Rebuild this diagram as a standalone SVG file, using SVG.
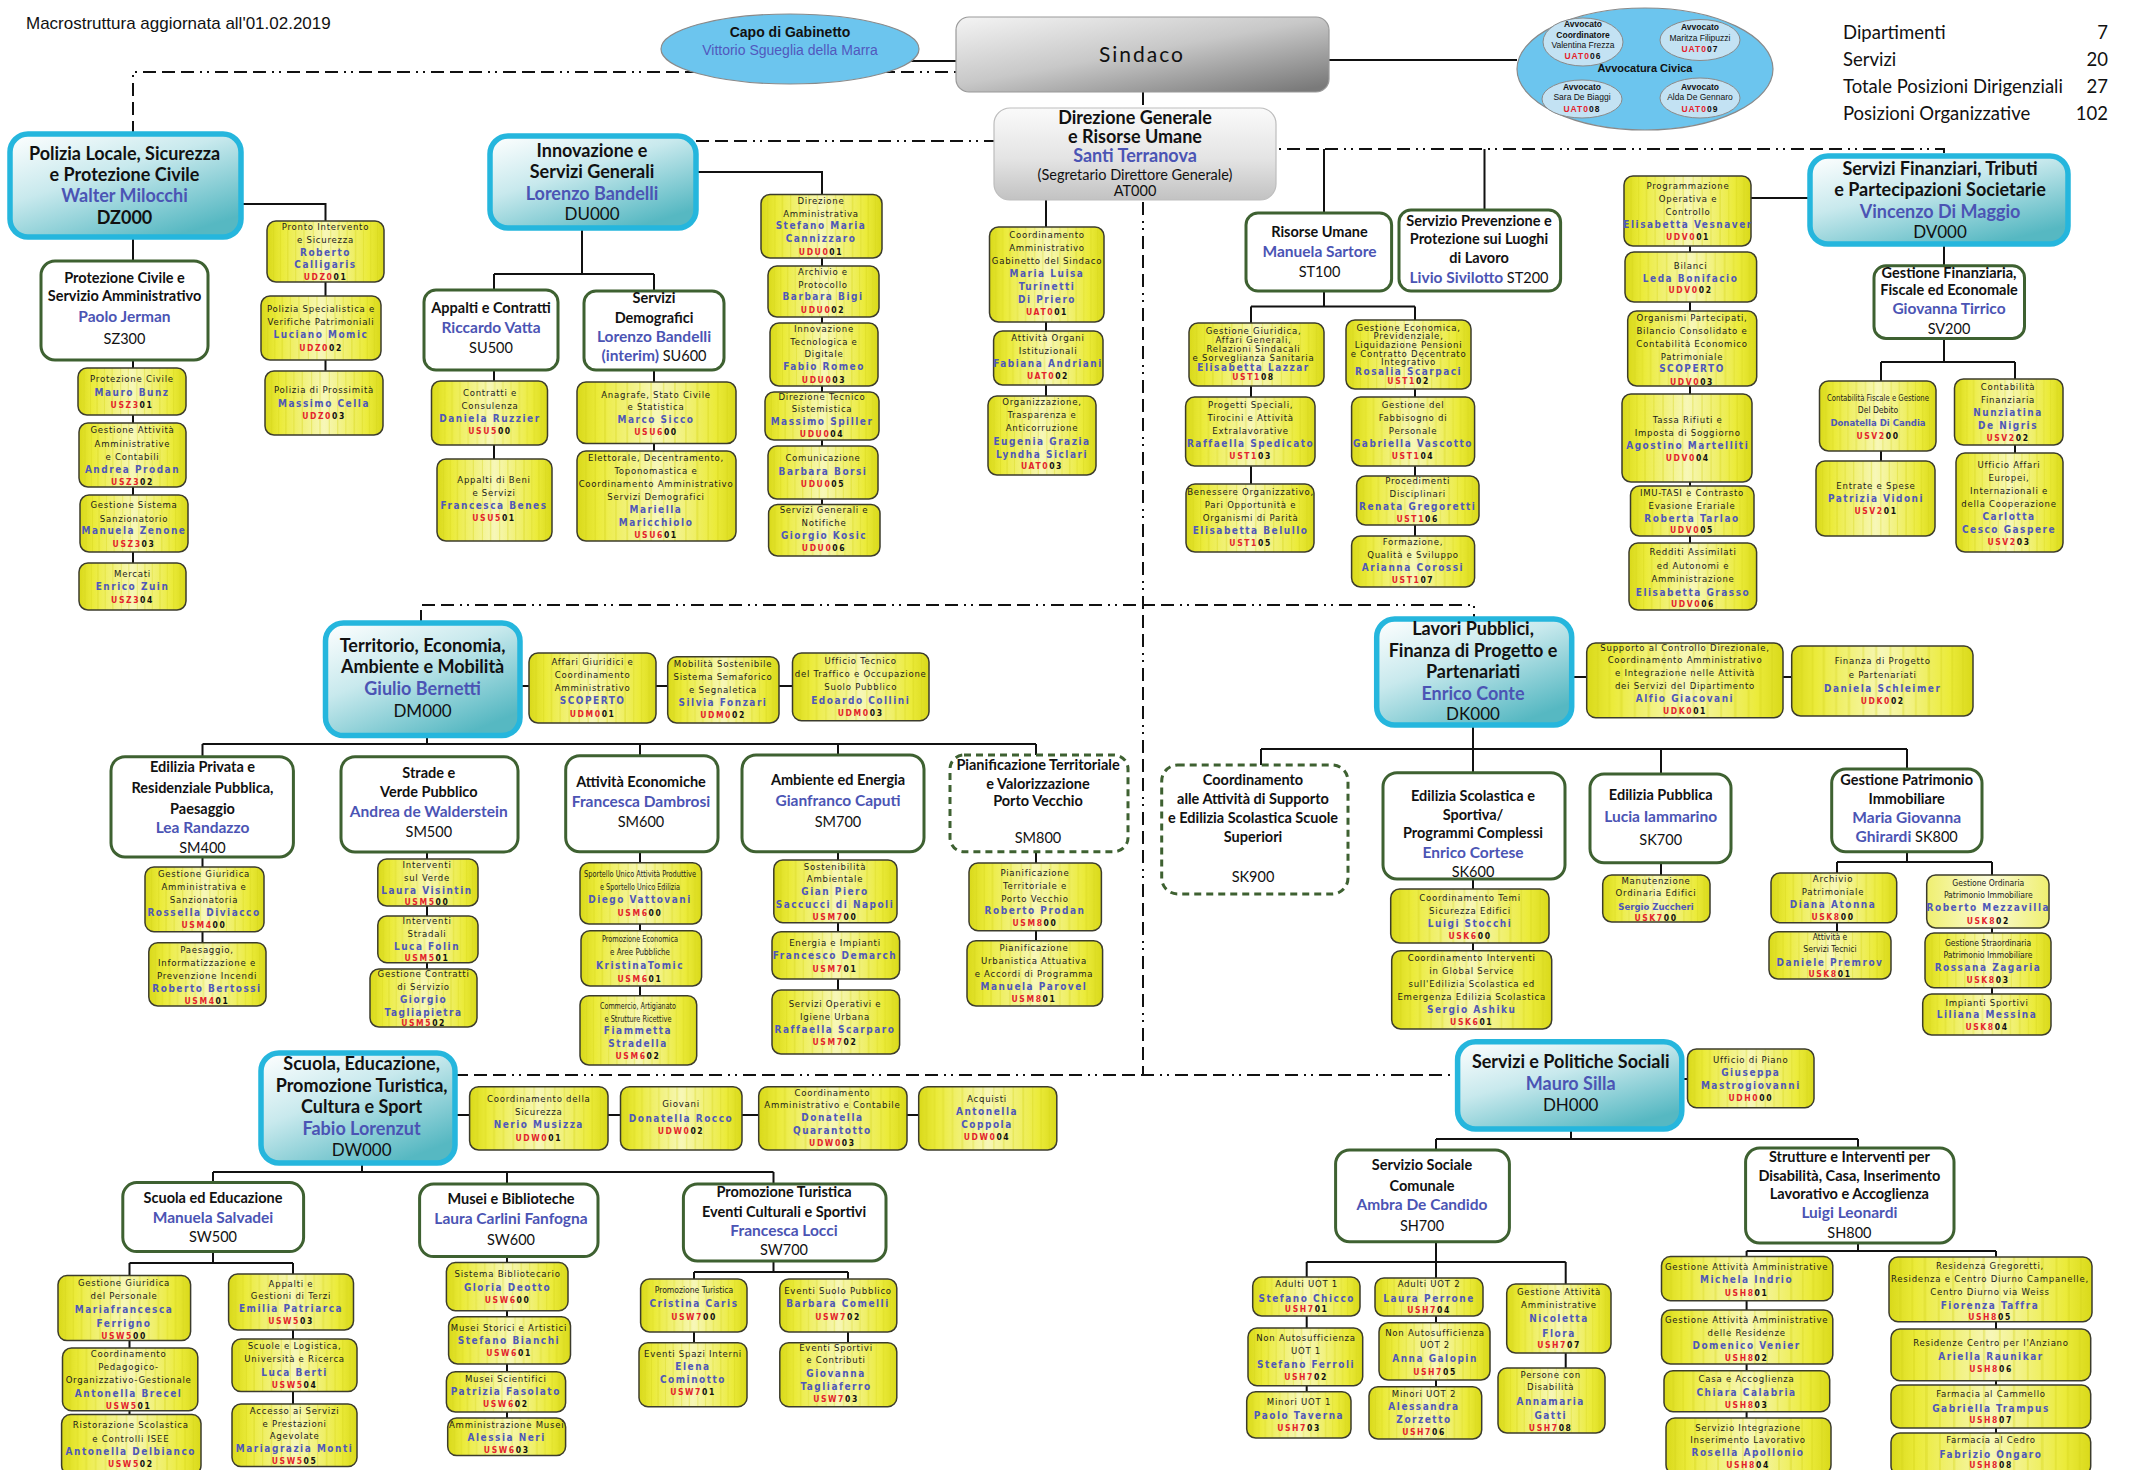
<svg xmlns="http://www.w3.org/2000/svg" width="2134" height="1470" viewBox="0 0 2134 1470">
<defs>
<linearGradient id="gy" x1="0" y1="0" x2="1" y2="0"><stop offset="0" stop-color="#d9d91a"/><stop offset="0.13" stop-color="#ebeb3a"/><stop offset="0.5" stop-color="#f7f7b8"/><stop offset="0.87" stop-color="#ebeb3a"/><stop offset="1" stop-color="#d9d91a"/></linearGradient>
<linearGradient id="gy2" x1="0" y1="0" x2="1" y2="0"><stop offset="0" stop-color="#efef70"/><stop offset="0.5" stop-color="#fbfbd8"/><stop offset="1" stop-color="#efef70"/></linearGradient>
<pattern id="py" patternUnits="objectBoundingBox" patternContentUnits="objectBoundingBox" x="0" y="0" width="1" height="1">
<rect width="1" height="1" fill="url(#gy)"/>
<g fill="#d4d418" opacity="0.35"><rect x="0.05" width="0.012" height="1"/><rect x="0.11" width="0.01" height="1"/><rect x="0.17" width="0.014" height="1"/><rect x="0.24" width="0.01" height="1"/><rect x="0.31" width="0.012" height="1"/><rect x="0.39" width="0.01" height="1"/><rect x="0.46" width="0.012" height="1"/><rect x="0.54" width="0.01" height="1"/><rect x="0.61" width="0.012" height="1"/><rect x="0.68" width="0.01" height="1"/><rect x="0.75" width="0.014" height="1"/><rect x="0.82" width="0.01" height="1"/><rect x="0.88" width="0.012" height="1"/><rect x="0.94" width="0.01" height="1"/></g>
</pattern>
<linearGradient id="gd" x1="0" y1="0" x2="0.7" y2="1"><stop offset="0" stop-color="#ffffff"/><stop offset="0.45" stop-color="#c8e9ed"/><stop offset="1" stop-color="#56b8c2"/></linearGradient>
<linearGradient id="gs" x1="0" y1="0" x2="0.9" y2="1"><stop offset="0" stop-color="#f4f4f4"/><stop offset="0.5" stop-color="#c8c8c8"/><stop offset="1" stop-color="#7a7a7a"/></linearGradient>
<linearGradient id="gg" x1="0" y1="0" x2="0" y2="1"><stop offset="0" stop-color="#fafafa"/><stop offset="0.55" stop-color="#e4e4e4"/><stop offset="1" stop-color="#c2c2c2"/></linearGradient>
<style>
.yb{fill:url(#py);stroke:#3c3c2c;stroke-width:1.5}
.yb2{fill:url(#gy2);stroke:#3c3c2c;stroke-width:1.5}
.sb{fill:#fff;stroke:#3e6131;stroke-width:3}
.sbd{fill:#fff;stroke:#3e6131;stroke-width:3;stroke-dasharray:7 5}
.db{fill:url(#gd);stroke:#25b6dd;stroke-width:5.5}
.cn{fill:none;stroke:#111;stroke-width:2}
.dl{fill:none;stroke:#111;stroke-width:2;stroke-dasharray:13 6 13 6 13 6 2 5 2 6}
.l,.lc,.n,.nc,.c{font-family:"DejaVu Sans Condensed","Liberation Sans Narrow","Liberation Sans",sans-serif;font-stretch:condensed;text-anchor:middle}
.l{font-size:9.5px;letter-spacing:.75px;fill:#1b1b1b}
.lc{font-size:8.5px;letter-spacing:0;fill:#1b1b1b}
.n{font-size:10px;font-weight:bold;letter-spacing:1.5px;fill:#4f58b8}
.nc{font-size:9.5px;font-weight:bold;letter-spacing:0;fill:#4f58b8}
.c{font-size:8.5px;font-weight:bold;letter-spacing:1.6px;fill:#111}
.r{fill:#e3232c}
.t,.tn,.tc,.dt,.dn,.dc{font-family:Lato,"Liberation Sans",sans-serif;text-anchor:middle}
.t{font-size:14.5px;font-weight:bold;fill:#111}
.tn{font-size:15.5px;font-weight:bold;fill:#4b54b4}
.tc{font-size:14.5px;fill:#111}
.dt{font-size:18px;font-weight:bold;fill:#111}
.dn{font-size:18px;font-weight:bold;fill:#4b54b4}
.dc{font-size:17px;fill:#111}
.st{font-family:Lato,"Liberation Sans",sans-serif;font-size:18.5px;fill:#111}
.av{font-family:"Liberation Sans",Arial,sans-serif;font-size:8.5px;text-anchor:middle;fill:#111}
</style>
</defs>
<rect width="2134" height="1470" fill="#ffffff"/>
<text x="26" y="29" font-family="Liberation Sans, Arial, sans-serif" font-size="17" fill="#111">Macrostruttura aggiornata all'01.02.2019</text>
<g id="stats">
<text class="st" x="1843" y="39">Dipartimenti</text><text class="st" x="2108" y="39" text-anchor="end">7</text>
<text class="st" x="1843" y="66">Servizi</text><text class="st" x="2108" y="66" text-anchor="end">20</text>
<text class="st" x="1843" y="93">Totale Posizioni Dirigenziali</text><text class="st" x="2108" y="93" text-anchor="end">27</text>
<text class="st" x="1843" y="120">Posizioni Organizzative</text><text class="st" x="2108" y="120" text-anchor="end">102</text>
</g>
<g id="connectors">
<path class="dl" d="M133,134V72H956M696,141H1143M1143,92V1076M1143,149H1944V156M421,623V605H1474V620M455,1075H1458"/>
<path class="cn" d="M909,61H956M1329,60H1517M241,204H325.5V371M133,237V563M582,228V274M494,274H654M494,274V459M654,274V451M696,172H822V505M1046,200V396M1324,149V213M1484.5,149V210M1324,291V306.5M1251,306.5H1415M1251,306.5V484M1415,306.5V536M1810,198H1751M1690,176V543M1944,244V266M1944,338V362M1881,362H2015M1881,362V461M2015,362V453M520,686H793M427,736V744M202.5,744H1036M202.5,744V757M640,744V756M838,744V755M1036,744V756M202.5,857V943M427,852V969M640,852V996M838,852V990M1036,852V941M1572,677H1792M1473,725V773M1261,749H1907M1261,749V765M1661,749V774M1907,749V769M1473,879V951M1661,863V875M1907,852V862M1837,862H1992M1837,862V932M1992,862V994M455,1115H919M362,1163V1172M213,1172H773.5M213,1172V1183M507,1172V1184M773.5,1172V1184M213,1252V1263M129.5,1263H293M129.5,1263V1415M293,1263V1404M507,1257V1418M773.5,1261V1272M694,1272H848M694,1272V1343M848,1272V1343M1682,1079H1688M1571,1129V1139M1436,1139H1858M1436,1139V1150M1858,1139V1148M1436,1242V1262M1306.7,1262H1565.7M1306.7,1262V1392M1436,1262V1387M1565.7,1262V1368M1858,1243V1251M1746.6,1251H1996M1746.6,1251V1418M1996,1251V1433"/>
</g>

<g id="CapoGabinetto"><ellipse cx="790" cy="49" rx="129" ry="35" fill="#6cc5ee" stroke="#8a8a8a" stroke-width="1.2"/>
<text x="790" y="37" font-family="Liberation Sans, Arial, sans-serif" font-size="14" font-weight="bold" text-anchor="middle" fill="#111">Capo di Gabinetto</text>
<text x="790" y="54.5" font-family="Liberation Sans, Arial, sans-serif" font-size="14" text-anchor="middle" fill="#5158bd">Vittorio Sgueglia della Marra</text></g>

<g id="Sindaco"><rect x="956" y="17" width="373" height="75" rx="13" fill="url(#gs)" stroke="#9a9a9a" stroke-width="1.2"/>
<text x="1142" y="62" font-family="Lato, 'Liberation Sans', sans-serif" font-size="21" letter-spacing="2" text-anchor="middle" fill="#111">Sindaco</text></g>

<g id="Avvocatura"><ellipse cx="1645" cy="69" rx="128" ry="61" fill="#6cc5ee" stroke="#8a8a8a" stroke-width="1.2"/>
<ellipse cx="1583" cy="42" rx="40" ry="24" fill="#c3e2f3" stroke="#8a8a8a"/>
<text class="av" x="1583" y="27" font-weight="bold">Avvocato</text><text class="av" x="1583" y="38" font-weight="bold">Coordinatore</text><text class="av" x="1583" y="48" fill="#5158bd">Valentina Frezza</text><text class="av" x="1583" y="59" font-weight="bold" letter-spacing="1"><tspan class="r">UAT0</tspan>06</text>
<ellipse cx="1700" cy="40" rx="40" ry="20.5" fill="#c3e2f3" stroke="#8a8a8a"/>
<text class="av" x="1700" y="30" font-weight="bold">Avvocato</text><text class="av" x="1700" y="41" fill="#5158bd">Maritza Filipuzzi</text><text class="av" x="1700" y="52" font-weight="bold" letter-spacing="1"><tspan class="r">UAT0</tspan>07</text>
<text x="1645" y="72" font-family="Liberation Sans, Arial, sans-serif" font-size="11" font-weight="bold" text-anchor="middle" fill="#111">Avvocatura Civica</text>
<ellipse cx="1582" cy="99" rx="40" ry="19" fill="#c3e2f3" stroke="#8a8a8a"/>
<text class="av" x="1582" y="89.5" font-weight="bold">Avvocato</text><text class="av" x="1582" y="100" fill="#5158bd">Sara De Biaggi</text><text class="av" x="1582" y="111.5" font-weight="bold" letter-spacing="1"><tspan class="r">UAT0</tspan>08</text>
<ellipse cx="1700" cy="98" rx="40" ry="20" fill="#c3e2f3" stroke="#8a8a8a"/>
<text class="av" x="1700" y="89.5" font-weight="bold">Avvocato</text><text class="av" x="1700" y="100" fill="#5158bd">Alda De Gennaro</text><text class="av" x="1700" y="111.5" font-weight="bold" letter-spacing="1"><tspan class="r">UAT0</tspan>09</text></g>

<g id="AT000"><rect x="994" y="108" width="282" height="92" rx="16" fill="url(#gg)" stroke="#bdbdbd" stroke-width="1.2"/>
<text class="dt" x="1135" y="123.5">Direzione Generale</text><text class="dt" x="1135" y="143">e Risorse Umane</text><text class="dn" x="1135" y="161.5" font-size="17">Santi Terranova</text><text class="tc" x="1135" y="179.5" font-size="13.5">(Segretario Direttore Generale)</text><text class="tc" x="1135" y="196" font-size="14">AT000</text></g>

<!-- Polizia -->
<g id="DZ000"><rect class="db" x="10" y="134" width="231" height="103" rx="18"/>
<text class="dt" x="124.5" y="159.5">Polizia Locale, Sicurezza</text><text class="dt" x="124.5" y="181">e Protezione Civile</text><text class="dn" x="124.5" y="202">Walter Milocchi</text><text class="dt" x="124.5" y="224">DZ000</text></g>
<g id="SZ300"><rect class="sb" x="41" y="261" width="167" height="99" rx="14"/>
<text class="t" x="124.5" y="283">Protezione Civile e</text><text class="t" x="124.5" y="301">Servizio Amministrativo</text><text class="tn" x="124.5" y="322">Paolo Jerman</text><text class="tc" x="124.5" y="344">SZ300</text></g>
<g id="USZ301"><rect class="yb" x="78" y="368" width="108" height="47" rx="9"/><text class="l" x="132" y="382">Protezione Civile</text><text class="n" x="132" y="395.5">Mauro Bunz</text><text class="c" x="132" y="408"><tspan class="r">USZ3</tspan>01</text></g>
<g id="USZ302"><rect class="yb" x="79" y="423" width="107" height="64" rx="9"/><text class="l" x="132.5" y="433">Gestione Attività</text><text class="l" x="132.5" y="446.5">Amministrative</text><text class="l" x="132.5" y="459.5">e Contabili</text><text class="n" x="132.5" y="472.5">Andrea Prodan</text><text class="c" x="132.5" y="484.5"><tspan class="r">USZ3</tspan>02</text></g>
<g id="USZ303"><rect class="yb" x="80" y="495" width="108" height="57" rx="9"/><text class="l" x="134" y="508">Gestione Sistema</text><text class="l" x="134" y="521.5">Sanzionatorio</text><text class="n" x="134" y="534">Manuela Zenone</text><text class="c" x="134" y="546.5"><tspan class="r">USZ3</tspan>03</text></g>
<g id="USZ304"><rect class="yb" x="79" y="563" width="107" height="47" rx="9"/><text class="l" x="132.5" y="576.5">Mercati</text><text class="n" x="132.5" y="589.5">Enrico Zuin</text><text class="c" x="132.5" y="602.5"><tspan class="r">USZ3</tspan>04</text></g>
<g id="UDZ001"><rect class="yb" x="267" y="221" width="117" height="61" rx="9"/><text class="l" x="325.5" y="230">Pronto Intervento</text><text class="l" x="325.5" y="242.5">e Sicurezza</text><text class="n" x="325.5" y="255.5">Roberto</text><text class="n" x="325.5" y="268">Calligaris</text><text class="c" x="325.5" y="279.5"><tspan class="r">UDZ0</tspan>01</text></g>
<g id="UDZ002"><rect class="yb" x="261" y="296" width="120" height="64" rx="9"/><text class="l" x="321" y="312">Polizia Specialistica e</text><text class="l" x="321" y="325">Verifiche Patrimoniali</text><text class="n" x="321" y="338">Luciano Momic</text><text class="c" x="321" y="350.5"><tspan class="r">UDZ0</tspan>02</text></g>
<g id="UDZ003"><rect class="yb" x="265" y="371" width="118" height="64" rx="9"/><text class="l" x="324" y="393">Polizia di Prossimità</text><text class="n" x="324" y="406.5">Massimo Cella</text><text class="c" x="324" y="418.5"><tspan class="r">UDZ0</tspan>03</text></g>

<!-- Innovazione -->
<g id="DU000"><rect class="db" x="490" y="136" width="206" height="92" rx="18"/>
<text class="dt" x="592" y="157">Innovazione e</text><text class="dt" x="592" y="178">Servizi Generali</text><text class="dn" x="592" y="200">Lorenzo Bandelli</text><text class="dc" x="592" y="220">DU000</text></g>
<g id="SU500"><rect class="sb" x="424" y="290" width="134" height="80" rx="12"/>
<text class="t" x="491" y="313">Appalti e Contratti</text><text class="tn" x="491" y="332.5">Riccardo Vatta</text><text class="tc" x="491" y="353">SU500</text></g>
<g id="USU500"><rect class="yb" x="431.5" y="381" width="116" height="64" rx="9"/><text class="l" x="490" y="396">Contratti e</text><text class="l" x="490" y="409">Consulenza</text><text class="n" x="490" y="421.5">Daniela Ruzzier</text><text class="c" x="490" y="433.5"><tspan class="r">USU5</tspan>00</text></g>
<g id="USU501"><rect class="yb" x="437" y="459" width="115" height="82" rx="9"/><text class="l" x="494" y="482.5">Appalti di Beni</text><text class="l" x="494" y="496">e Servizi</text><text class="n" x="494" y="508.5">Francesca Benes</text><text class="c" x="494" y="521"><tspan class="r">USU5</tspan>01</text></g>
<g id="SU600"><rect class="sb" x="584" y="291" width="140" height="79" rx="12"/>
<text class="t" x="654" y="303" font-size="16">Servizi</text><text class="t" x="654" y="323" font-size="16">Demografici</text><text class="tn" x="654" y="341.5">Lorenzo Bandelli</text><text class="tc" x="654" y="361" font-size="15.5"><tspan class="tn">(interim)</tspan> SU600</text></g>
<g id="USU600"><rect class="yb" x="577" y="382" width="159" height="61.5" rx="9"/><text class="l" x="656" y="397.5">Anagrafe, Stato Civile</text><text class="l" x="656" y="410">e Statistica</text><text class="n" x="656" y="422.5">Marco Sicco</text><text class="c" x="656" y="435"><tspan class="r">USU6</tspan>00</text></g>
<g id="USU601"><rect class="yb" x="577" y="451" width="159" height="90" rx="9"/><text class="l" x="656" y="460.5">Elettorale, Decentramento,</text><text class="l" x="656" y="473.5">Toponomastica e</text><text class="l" x="656" y="486.5">Coordinamento Amministrativo</text><text class="l" x="656" y="499.5">Servizi Demografici</text><text class="n" x="656" y="512.5">Mariella</text><text class="n" x="656" y="525.5">Maricchiolo</text><text class="c" x="656" y="537.5"><tspan class="r">USU6</tspan>01</text></g>
<g id="UDU001"><rect class="yb" x="761" y="194.5" width="121" height="63.5" rx="9"/><text class="l" x="821" y="203.5">Direzione</text><text class="l" x="821" y="216.5">Amministrativa</text><text class="n" x="821" y="229">Stefano Maria</text><text class="n" x="821" y="242">Cannizzaro</text><text class="c" x="821" y="254.5"><tspan class="r">UDU0</tspan>01</text></g>
<g id="UDU002"><rect class="yb" x="768" y="266" width="111" height="51" rx="9"/><text class="l" x="823" y="275">Archivio e</text><text class="l" x="823" y="287.5">Protocollo</text><text class="n" x="823" y="300">Barbara Bigi</text><text class="c" x="823" y="312.5"><tspan class="r">UDU0</tspan>02</text></g>
<g id="UDU003"><rect class="yb" x="770" y="323" width="108" height="63" rx="9"/><text class="l" x="824" y="331.5">Innovazione</text><text class="l" x="824" y="344.5">Tecnologica e</text><text class="l" x="824" y="357">Digitale</text><text class="n" x="824" y="370">Fabio Romeo</text><text class="c" x="824" y="382.5"><tspan class="r">UDU0</tspan>03</text></g>
<g id="UDU004"><rect class="yb" x="765" y="392" width="114" height="48" rx="9"/><text class="l" x="822" y="399.5">Direzione Tecnico</text><text class="l" x="822" y="412">Sistemistica</text><text class="n" x="822" y="425">Massimo Spiller</text><text class="c" x="822" y="437"><tspan class="r">UDU0</tspan>04</text></g>
<g id="UDU005"><rect class="yb" x="768" y="446" width="110" height="53" rx="9"/><text class="l" x="823" y="461">Comunicazione</text><text class="n" x="823" y="474.5">Barbara Borsi</text><text class="c" x="823" y="486.5"><tspan class="r">UDU0</tspan>05</text></g>
<g id="UDU006"><rect class="yb" x="768.6" y="504.5" width="111.4" height="51.5" rx="9"/><text class="l" x="824" y="513">Servizi Generali e</text><text class="l" x="824" y="525.5">Notifiche</text><text class="n" x="824" y="539">Giorgio Kosic</text><text class="c" x="824" y="551"><tspan class="r">UDU0</tspan>06</text></g>

<!-- DG children -->
<g id="UAT001"><rect class="yb" x="989.5" y="227" width="114.5" height="95" rx="9"/><text class="l" x="1047" y="237.5">Coordinamento</text><text class="l" x="1047" y="250.5">Amministrativo</text><text class="l" x="1047" y="263.5">Gabinetto del Sindaco</text><text class="n" x="1047" y="276.5">Maria Luisa</text><text class="n" x="1047" y="289.5">Turinetti</text><text class="n" x="1047" y="302.5">Di Priero</text><text class="c" x="1047" y="314.5"><tspan class="r">UAT0</tspan>01</text></g>
<g id="UAT002"><rect class="yb" x="993.6" y="331" width="109.4" height="54" rx="9"/><text class="l" x="1048" y="340.5">Attività Organi</text><text class="l" x="1048" y="353.5">Istituzionali</text><text class="n" x="1048" y="366.5" letter-spacing="1">Fabiana Andriani</text><text class="c" x="1048" y="378.5"><tspan class="r">UAT0</tspan>02</text></g>
<g id="UAT003"><rect class="yb" x="988" y="396" width="108" height="79" rx="9"/><text class="l" x="1042" y="405">Organizzazione,</text><text class="l" x="1042" y="418">Trasparenza e</text><text class="l" x="1042" y="431">Anticorruzione</text><text class="n" x="1042" y="444.5">Eugenia Grazia</text><text class="n" x="1042" y="457.5">Lyndha Siclari</text><text class="c" x="1042" y="469"><tspan class="r">UAT0</tspan>03</text></g>
<g id="ST100"><rect class="sb" x="1246" y="213" width="145.6" height="78" rx="12"/>
<text class="t" x="1319.5" y="236.5" font-size="16">Risorse Umane</text><text class="tn" x="1319.5" y="256.7" font-size="16">Manuela Sartore</text><text class="tc" x="1319.5" y="277">ST100</text></g>
<g id="ST200"><rect class="sb" x="1399" y="210" width="161.6" height="81" rx="12"/>
<text class="t" x="1479" y="225.6" font-size="14">Servizio Prevenzione e</text><text class="t" x="1479" y="244" font-size="14">Protezione sui Luoghi</text><text class="t" x="1479" y="262.6" font-size="14">di Lavoro</text><text class="tc" x="1479" y="283" font-size="15.5"><tspan class="tn">Livio Sivilotto</tspan> ST200</text></g>
<g id="UST108"><rect class="yb" x="1189" y="323" width="135" height="63" rx="9"/><text class="l" x="1253.5" y="334">Gestione Giuridica,</text><text class="l" x="1253.5" y="343">Affari Generali,</text><text class="l" x="1253.5" y="352">Relazioni Sindacali</text><text class="l" x="1253.5" y="361">e Sorveglianza Sanitaria</text><text class="n" x="1253.5" y="370.5">Elisabetta Lazzar</text><text class="c" x="1253.5" y="380"><tspan class="r">UST1</tspan>08</text></g>
<g id="UST103"><rect class="yb" x="1185.6" y="397" width="129.4" height="69" rx="9"/><text class="l" x="1250.6" y="408">Progetti Speciali,</text><text class="l" x="1250.6" y="421">Tirocini e Attività</text><text class="l" x="1250.6" y="434">Extralavorative</text><text class="n" x="1250.6" y="447" letter-spacing="1.2">Raffaella Spedicato</text><text class="c" x="1250.6" y="459"><tspan class="r">UST1</tspan>03</text></g>
<g id="UST105"><rect class="yb" x="1186" y="484" width="128" height="68" rx="9"/><text class="l" x="1250.6" y="495">Benessere Organizzativo,</text><text class="l" x="1250.6" y="508">Pari Opportunità e</text><text class="l" x="1250.6" y="521">Organismi di Parità</text><text class="n" x="1250.6" y="534">Elisabetta Belullo</text><text class="c" x="1250.6" y="546"><tspan class="r">UST1</tspan>05</text></g>
<g id="UST102"><rect class="yb" x="1346" y="320" width="125" height="69" rx="9"/><text class="l" x="1408.6" y="330.5">Gestione Economica,</text><text class="l" x="1408.6" y="339">Previdenziale,</text><text class="l" x="1408.6" y="348">Liquidazione Pensioni</text><text class="l" x="1408.6" y="356.5">e Contratto Decentrato</text><text class="l" x="1408.6" y="365">Integrativo</text><text class="n" x="1408.6" y="374.5">Rosalia Scarpaci</text><text class="c" x="1408.6" y="384"><tspan class="r">UST1</tspan>02</text></g>
<g id="UST104"><rect class="yb" x="1351.6" y="397" width="123" height="69" rx="9"/><text class="l" x="1413" y="408">Gestione del</text><text class="l" x="1413" y="421">Fabbisogno di</text><text class="l" x="1413" y="434">Personale</text><text class="n" x="1413" y="447" letter-spacing="1.2">Gabriella Vascotto</text><text class="c" x="1413" y="459"><tspan class="r">UST1</tspan>04</text></g>
<g id="UST106"><rect class="yb" x="1356.6" y="476" width="122.4" height="49" rx="9"/><text class="l" x="1417.7" y="484">Procedimenti</text><text class="l" x="1417.7" y="497">Disciplinari</text><text class="n" x="1417.7" y="510">Renata Gregoretti</text><text class="c" x="1417.7" y="522"><tspan class="r">UST1</tspan>06</text></g>
<g id="UST107"><rect class="yb" x="1351.6" y="536" width="123" height="51" rx="9"/><text class="l" x="1413" y="545">Formazione,</text><text class="l" x="1413" y="558">Qualità e Sviluppo</text><text class="n" x="1413" y="570.5">Arianna Corossi</text><text class="c" x="1413" y="583"><tspan class="r">UST1</tspan>07</text></g>

<!-- Finanziari -->
<g id="DV000"><rect class="db" x="1810" y="156" width="258" height="88" rx="18"/>
<text class="dt" x="1940" y="175">Servizi Finanziari, Tributi</text><text class="dt" x="1940" y="196">e Partecipazioni Societarie</text><text class="dn" x="1940" y="218">Vincenzo Di Maggio</text><text class="dc" x="1940" y="237.5">DV000</text></g>
<g id="UDV001"><rect class="yb" x="1624" y="176" width="127" height="70" rx="9"/><text class="l" x="1688" y="189">Programmazione</text><text class="l" x="1688" y="202">Operativa e</text><text class="l" x="1688" y="215">Controllo</text><text class="n" x="1688" y="228" letter-spacing="1.1">Elisabetta Vesnaver</text><text class="c" x="1688" y="240"><tspan class="r">UDV0</tspan>01</text></g>
<g id="UDV002"><rect class="yb" x="1625" y="252" width="131.6" height="50" rx="9"/><text class="l" x="1690.6" y="268.5">Bilanci</text><text class="n" x="1690.6" y="281.5">Leda Bonifacio</text><text class="c" x="1690.6" y="293"><tspan class="r">UDV0</tspan>02</text></g>
<g id="UDV003"><rect class="yb" x="1627.7" y="311" width="129" height="75" rx="9"/><text class="l" x="1692" y="320.5">Organismi Partecipati,</text><text class="l" x="1692" y="333.5">Bilancio Consolidato e</text><text class="l" x="1692" y="346.5">Contabilità Economico</text><text class="l" x="1692" y="359.5">Patrimoniale</text><text class="n" x="1692" y="372">SCOPERTO</text><text class="c" x="1692" y="384.5"><tspan class="r">UDV0</tspan>03</text></g>
<g id="UDV004"><rect class="yb" x="1622" y="394" width="130" height="88" rx="9"/><text class="l" x="1687.7" y="422.5">Tassa Rifiuti e</text><text class="l" x="1687.7" y="435.5">Imposta di Soggiorno</text><text class="n" x="1687.7" y="448.5" letter-spacing="1.2">Agostino Martelliti</text><text class="c" x="1687.7" y="460.5"><tspan class="r">UDV0</tspan>04</text></g>
<g id="UDV005"><rect class="yb" x="1630.5" y="486" width="123.5" height="50" rx="9"/><text class="l" x="1692" y="495.5">IMU-TASI e Contrasto</text><text class="l" x="1692" y="508.5">Evasione Erariale</text><text class="n" x="1692" y="521.5">Roberta Tarlao</text><text class="c" x="1692" y="533"><tspan class="r">UDV0</tspan>05</text></g>
<g id="UDV006"><rect class="yb" x="1629" y="543" width="127.6" height="67" rx="9"/><text class="l" x="1693" y="554.5">Redditi Assimilati</text><text class="l" x="1693" y="569">ed Autonomi e</text><text class="l" x="1693" y="582">Amministrazione</text><text class="n" x="1693" y="595.5">Elisabetta Grasso</text><text class="c" x="1693" y="606.5"><tspan class="r">UDV0</tspan>06</text></g>
<g id="SV200"><rect class="sb" x="1874" y="265.7" width="150.5" height="72.7" rx="12"/>
<text class="t" x="1949" y="278" font-size="14">Gestione Finanziaria,</text><text class="t" x="1949" y="295" font-size="14">Fiscale ed Economale</text><text class="tn" x="1949" y="313.5">Giovanna Tirrico</text><text class="tc" x="1949" y="334">SV200</text></g>
<g id="USV200"><rect class="yb" x="1819.5" y="381" width="116.5" height="70" rx="9"/><text class="lc" x="1878" y="401" textLength="102" lengthAdjust="spacingAndGlyphs">Contabilità Fiscale e Gestione</text><text class="lc" x="1878" y="413">Del Debito</text><text class="nc" x="1878" y="426" letter-spacing="0.4">Donatella Di Candia</text><text class="c" x="1878" y="438.5"><tspan class="r">USV2</tspan>00</text></g>
<g id="USV201"><rect class="yb" x="1816" y="461" width="119" height="75" rx="9"/><text class="l" x="1876" y="489">Entrate e Spese</text><text class="n" x="1876" y="502">Patrizia Vidoni</text><text class="c" x="1876" y="514"><tspan class="r">USV2</tspan>01</text></g>
<g id="USV202"><rect class="yb" x="1954.5" y="379" width="108.5" height="66" rx="9"/><text class="l" x="2008" y="389.5">Contabilità</text><text class="l" x="2008" y="402.5">Finanziaria</text><text class="n" x="2008" y="415.5">Nunziatina</text><text class="n" x="2008" y="428.5">De Nigris</text><text class="c" x="2008" y="441"><tspan class="r">USV2</tspan>02</text></g>
<g id="USV203"><rect class="yb" x="1956" y="453" width="107" height="99" rx="9"/><text class="l" x="2009" y="467.5">Ufficio Affari</text><text class="l" x="2009" y="480.5">Europei,</text><text class="l" x="2009" y="494">Internazionali e</text><text class="l" x="2009" y="507">della Cooperazione</text><text class="n" x="2009" y="520">Carlotta</text><text class="n" x="2009" y="533">Cesco Gaspere</text><text class="c" x="2009" y="545"><tspan class="r">USV2</tspan>03</text></g>

<!-- Territorio -->
<g id="DM000"><rect class="db" x="325.5" y="623" width="194.5" height="112.6" rx="18"/>
<text class="dt" x="422.6" y="651.7">Territorio,  Economia,</text><text class="dt" x="422.6" y="673">Ambiente e Mobilità</text><text class="dn" x="422.6" y="695">Giulio Bernetti</text><text class="dc" x="422.6" y="716.7">DM000</text></g>
<g id="UDM001"><rect class="yb" x="529" y="653" width="127" height="70" rx="9"/><text class="l" x="592.6" y="665">Affari Giuridici e</text><text class="l" x="592.6" y="678">Coordinamento</text><text class="l" x="592.6" y="691">Amministrativo</text><text class="n" x="592.6" y="704">SCOPERTO</text><text class="c" x="592.6" y="716.7"><tspan class="r">UDM0</tspan>01</text></g>
<g id="UDM002"><rect class="yb" x="667.7" y="656.7" width="111.3" height="66.3" rx="9"/><text class="l" x="723" y="667">Mobilità Sostenibile</text><text class="l" x="723" y="680">Sistema Semaforico</text><text class="l" x="723" y="693">e Segnaletica</text><text class="n" x="723" y="706">Silvia Fonzari</text><text class="c" x="723" y="718"><tspan class="r">UDM0</tspan>02</text></g>
<g id="UDM003"><rect class="yb" x="792.5" y="653" width="136.5" height="67.7" rx="9"/><text class="l" x="860.7" y="663.5">Ufficio Tecnico</text><text class="l" x="860.7" y="677" letter-spacing=".4">del Traffico e Occupazione</text><text class="l" x="860.7" y="690">Suolo Pubblico</text><text class="n" x="860.7" y="704">Edoardo Collini</text><text class="c" x="860.7" y="715.5"><tspan class="r">UDM0</tspan>03</text></g>
<g id="SM400"><rect class="sb" x="111" y="756.7" width="182.4" height="100.3" rx="14"/>
<text class="t" x="202.5" y="772" font-size="15">Edilizia Privata e</text><text class="t" x="202.5" y="793" font-size="15">Residenziale Pubblica,</text><text class="t" x="202.5" y="813.5" font-size="15">Paesaggio</text><text class="tn" x="202.5" y="833">Lea Randazzo</text><text class="tc" x="202.5" y="853">SM400</text></g>
<g id="SM500"><rect class="sb" x="341" y="756.7" width="177" height="95.3" rx="14"/>
<text class="t" x="428.8" y="778" font-size="14">Strade e</text><text class="t" x="428.8" y="797" font-size="14">Verde Pubblico</text><text class="tn" x="428.8" y="816.7">Andrea de Walderstein</text><text class="tc" x="428.8" y="837">SM500</text></g>
<g id="SM600"><rect class="sb" x="565.7" y="755.7" width="152.3" height="96" rx="14"/>
<text class="t" x="641" y="787">Attività Economiche</text><text class="tn" x="641" y="806.5">Francesca Dambrosi</text><text class="tc" x="641" y="827">SM600</text></g>
<g id="SM700"><rect class="sb" x="742" y="755" width="182" height="96.7" rx="14"/>
<text class="t" x="838" y="785">Ambiente ed Energia</text><text class="tn" x="838" y="805.5">Gianfranco Caputi</text><text class="tc" x="838" y="827">SM700</text></g>
<g id="SM800"><rect class="sbd" x="950" y="755" width="178" height="96.7" rx="14"/>
<text class="t" x="1038" y="770" font-size="14">Pianificazione Territoriale</text><text class="t" x="1038" y="789" font-size="14">e Valorizzazione</text><text class="t" x="1038" y="806" font-size="14">Porto Vecchio</text><text class="tc" x="1038" y="843">SM800</text></g>
<g id="USM400"><rect class="yb" x="145" y="867" width="119" height="64.7" rx="9"/><text class="l" x="204" y="877">Gestione Giuridica</text><text class="l" x="204" y="889.5">Amministrativa e</text><text class="l" x="204" y="902.5">Sanzionatoria</text><text class="n" x="204" y="915.5">Rossella Diviacco</text><text class="c" x="204" y="928"><tspan class="r">USM4</tspan>00</text></g>
<g id="USM401"><rect class="yb" x="148.8" y="942.7" width="117.2" height="63.3" rx="9"/><text class="l" x="207" y="953">Paesaggio,</text><text class="l" x="207" y="966">Informatizzazione e</text><text class="l" x="207" y="978.5">Prevenzione Incendi</text><text class="n" x="207" y="991.5">Roberto Bertossi</text><text class="c" x="207" y="1003.5"><tspan class="r">USM4</tspan>01</text></g>
<g id="USM500"><rect class="yb" x="377.8" y="859" width="100.2" height="47" rx="9"/><text class="l" x="427" y="867.5">Interventi</text><text class="l" x="427" y="880.5">sul Verde</text><text class="n" x="427" y="893.5">Laura Visintin</text><text class="c" x="427" y="905"><tspan class="r">USM5</tspan>00</text></g>
<g id="USM501"><rect class="yb" x="377.8" y="916" width="100.2" height="46.7" rx="9"/><text class="l" x="427" y="923.5">Interventi</text><text class="l" x="427" y="936.5">Stradali</text><text class="n" x="427" y="949.5">Luca Folin</text><text class="c" x="427" y="961"><tspan class="r">USM5</tspan>01</text></g>
<g id="USM502"><rect class="yb" x="370" y="969" width="107" height="58" rx="9"/><text class="l" x="423.6" y="977">Gestione Contratti</text><text class="l" x="423.6" y="989.5">di Servizio</text><text class="n" x="423.6" y="1002.5">Giorgio</text><text class="n" x="423.6" y="1015.5">Tagliapietra</text><text class="c" x="423.6" y="1026"><tspan class="r">USM5</tspan>02</text></g>
<g id="USM600"><rect class="yb" x="580" y="862.7" width="121.6" height="61.3" rx="9"/><text class="lc" x="640" y="877" textLength="112" lengthAdjust="spacingAndGlyphs">Sportello Unico Attività Produttive</text><text class="lc" x="640" y="889.5" textLength="80" lengthAdjust="spacingAndGlyphs">e Sportello Unico Edilizia</text><text class="n" x="640" y="903">Diego Vattovani</text><text class="c" x="640" y="916"><tspan class="r">USM6</tspan>00</text></g>
<g id="USM601"><rect class="yb" x="581" y="930.7" width="120.6" height="55.3" rx="9"/><text class="lc" x="640" y="942" textLength="76" lengthAdjust="spacingAndGlyphs">Promozione Economica</text><text class="lc" x="640" y="954.5" textLength="60" lengthAdjust="spacingAndGlyphs">e Aree Pubbliche</text><text class="n" x="640" y="969">KristinaTomic</text><text class="c" x="640" y="981.5"><tspan class="r">USM6</tspan>01</text></g>
<g id="USM602"><rect class="yb" x="580" y="995.7" width="116.7" height="69.3" rx="9"/><text class="lc" x="638" y="1009" textLength="76" lengthAdjust="spacingAndGlyphs">Commercio, Artigianato</text><text class="lc" x="638" y="1021.5" textLength="67" lengthAdjust="spacingAndGlyphs">e Strutture Ricettive</text><text class="n" x="638" y="1034">Fiammetta</text><text class="n" x="638" y="1047">Stradella</text><text class="c" x="638" y="1059"><tspan class="r">USM6</tspan>02</text></g>
<g id="USM700"><rect class="yb" x="773.8" y="860" width="123.2" height="62.7" rx="9"/><text class="l" x="835" y="869.5">Sostenibilità</text><text class="l" x="835" y="882">Ambientale</text><text class="n" x="835" y="895">Gian Piero</text><text class="n" x="835" y="908" letter-spacing="1.2">Saccucci di Napoli</text><text class="c" x="835" y="920"><tspan class="r">USM7</tspan>00</text></g>
<g id="USM701"><rect class="yb" x="772" y="931.7" width="127.6" height="47.3" rx="9"/><text class="l" x="835" y="946">Energia e Impianti</text><text class="n" x="835" y="959">Francesco Demarch</text><text class="c" x="835" y="971.5"><tspan class="r">USM7</tspan>01</text></g>
<g id="USM702"><rect class="yb" x="772" y="990" width="127.6" height="64" rx="9"/><text class="l" x="835" y="1007">Servizi Operativi e</text><text class="l" x="835" y="1020">Igiene Urbana</text><text class="n" x="835" y="1033">Raffaella Scarparo</text><text class="c" x="835" y="1045"><tspan class="r">USM7</tspan>02</text></g>
<g id="USM800"><rect class="yb" x="969" y="863" width="132.4" height="67.7" rx="9"/><text class="l" x="1035" y="876">Pianificazione</text><text class="l" x="1035" y="888.5">Territoriale e</text><text class="l" x="1035" y="901.5">Porto Vecchio</text><text class="n" x="1035" y="914">Roberto Prodan</text><text class="c" x="1035" y="925.5"><tspan class="r">USM8</tspan>00</text></g>
<g id="USM801"><rect class="yb" x="967" y="940.7" width="135.6" height="65.3" rx="9"/><text class="l" x="1034" y="951">Pianificazione</text><text class="l" x="1034" y="964">Urbanistica Attuativa</text><text class="l" x="1034" y="977">e Accordi di  Programma</text><text class="n" x="1034" y="990">Manuela Parovel</text><text class="c" x="1034" y="1002"><tspan class="r">USM8</tspan>01</text></g>

<!-- Lavori Pubblici -->
<g id="DK000"><rect class="db" x="1376.7" y="619" width="195" height="106" rx="18"/>
<text class="dt" x="1473" y="635">Lavori Pubblici,</text><text class="dt" x="1473" y="656.7">Finanza di Progetto e</text><text class="dt" x="1473" y="678">Partenariati</text><text class="dn" x="1473" y="700">Enrico Conte</text><text class="dc" x="1473" y="720">DK000</text></g>
<g id="UDK001"><rect class="yb" x="1586.7" y="643" width="196.3" height="74.7" rx="9"/><text class="l" x="1685" y="650.5">Supporto al Controllo Direzionale,</text><text class="l" x="1685" y="663">Coordinamento Amministrativo</text><text class="l" x="1685" y="676">e Integrazione nelle Attività</text><text class="l" x="1685" y="689">dei Servizi del Dipartimento</text><text class="n" x="1685" y="702">Alfio Giacovani</text><text class="c" x="1685" y="714"><tspan class="r">UDK0</tspan>01</text></g>
<g id="UDK002"><rect class="yb" x="1791.7" y="646" width="181.3" height="70" rx="9"/><text class="l" x="1882.7" y="664" font-size="10" letter-spacing="1.6">Finanza di Progetto</text><text class="l" x="1882.7" y="678" font-size="10" letter-spacing="1.6">e Partenariati</text><text class="n" x="1882.7" y="691.7">Daniela Schleimer</text><text class="c" x="1882.7" y="704"><tspan class="r">UDK0</tspan>02</text></g>
<g id="SK900"><rect class="sbd" x="1161.7" y="765" width="186.3" height="129" rx="16"/>
<text class="t" x="1253" y="785" font-size="14">Coordinamento</text><text class="t" x="1253" y="804" font-size="14">alle Attività di Supporto</text><text class="t" x="1253" y="822.7" font-size="14">e Edilizia Scolastica Scuole</text><text class="t" x="1253" y="841.7" font-size="14">Superiori</text><text class="tc" x="1253" y="881.7">SK900</text></g>
<g id="SK600"><rect class="sb" x="1383" y="772.7" width="182" height="106.3" rx="14"/>
<text class="t" x="1473" y="800.7" font-size="14">Edilizia Scolastica e</text><text class="t" x="1473" y="820" font-size="14">Sportiva/</text><text class="t" x="1473" y="838" font-size="14">Programmi Complessi</text><text class="tn" x="1473" y="857.7">Enrico Cortese</text><text class="tc" x="1473" y="876.7">SK600</text></g>
<g id="USK600"><rect class="yb" x="1390.7" y="889" width="158.3" height="54" rx="9"/><text class="l" x="1470" y="900.5">Coordinamento Temi</text><text class="l" x="1470" y="913.5">Sicurezza Edifici</text><text class="n" x="1470" y="926.5">Luigi Stocchi</text><text class="c" x="1470" y="938.5"><tspan class="r">USK6</tspan>00</text></g>
<g id="USK601"><rect class="yb" x="1391.7" y="950.7" width="160" height="78.3" rx="9"/><text class="l" x="1471.7" y="961">Coordinamento Interventi</text><text class="l" x="1471.7" y="974">in Global Service</text><text class="l" x="1471.7" y="987">sull'Edilizia Scolastica ed</text><text class="l" x="1471.7" y="1000">Emergenza Edilizia Scolastica</text><text class="n" x="1471.7" y="1013">Sergio Ashiku</text><text class="c" x="1471.7" y="1025"><tspan class="r">USK6</tspan>01</text></g>
<g id="SK700"><rect class="sb" x="1590" y="774" width="141" height="88.7" rx="14"/>
<text class="t" x="1660.7" y="800">Edilizia Pubblica</text><text class="tn" x="1660.7" y="822">Lucia Iammarino</text><text class="tc" x="1660.7" y="845">SK700</text></g>
<g id="USK700"><rect class="yb" x="1602.7" y="875" width="107.3" height="47" rx="9"/><text class="l" x="1656" y="883.5">Manutenzione</text><text class="l" x="1656" y="896">Ordinaria Edifici</text><text class="nc" x="1656" y="909.5">Sergio Zuccheri</text><text class="c" x="1656" y="920.5"><tspan class="r">USK7</tspan>00</text></g>
<g id="SK800"><rect class="sb" x="1831.7" y="769" width="150.3" height="82.7" rx="14"/>
<text class="t" x="1906.7" y="785">Gestione Patrimonio</text><text class="t" x="1906.7" y="804">Immobiliare</text><text class="tn" x="1906.7" y="823">Maria Giovanna</text><text class="tc" x="1906.7" y="842" font-size="15.5"><tspan class="tn">Ghirardi</tspan> SK800</text></g>
<g id="USK800"><rect class="yb" x="1771" y="873" width="125.7" height="49.7" rx="9"/><text class="l" x="1833" y="882">Archivio</text><text class="l" x="1833" y="895">Patrimoniale</text><text class="n" x="1833" y="908">Diana Atonna</text><text class="c" x="1833" y="919.5"><tspan class="r">USK8</tspan>00</text></g>
<g id="USK801"><rect class="yb" x="1769" y="931.7" width="122" height="47.3" rx="9"/><text class="lc" x="1830" y="939.5">Attività e</text><text class="lc" x="1830" y="952">Servizi Tecnici</text><text class="n" x="1830" y="966">Daniele Premrov</text><text class="c" x="1830" y="977"><tspan class="r">USK8</tspan>01</text></g>
<g id="USK802"><rect class="yb2" x="1926.7" y="875" width="122.3" height="53" rx="9"/><text class="lc" x="1988.3" y="885.5">Gestione Ordinaria</text><text class="lc" x="1988.3" y="898">Patrimonio Immobiliare</text><text class="n" x="1988.3" y="911" letter-spacing="1.1">Roberto Mezzavilla</text><text class="c" x="1988.3" y="923.5"><tspan class="r">USK8</tspan>02</text></g>
<g id="USK803"><rect class="yb" x="1925" y="933" width="126" height="54.7" rx="9"/><text class="lc" x="1988" y="945.5">Gestione Straordinaria</text><text class="lc" x="1988" y="958">Patrimonio Immobiliare</text><text class="n" x="1988" y="971">Rossana Zagaria</text><text class="c" x="1988" y="982.5"><tspan class="r">USK8</tspan>03</text></g>
<g id="USK804"><rect class="yb" x="1922.7" y="994" width="128.3" height="41" rx="9"/><text class="l" x="1987" y="1005.5">Impianti Sportivi</text><text class="n" x="1987" y="1018">Liliana Messina</text><text class="c" x="1987" y="1030"><tspan class="r">USK8</tspan>04</text></g>

<!-- Scuola -->
<g id="DW000"><rect class="db" x="261" y="1053" width="194" height="110" rx="18"/>
<text class="dt" x="361.6" y="1070">Scuola, Educazione,</text><text class="dt" x="361.6" y="1092">Promozione Turistica,</text><text class="dt" x="361.6" y="1113">Cultura e Sport</text><text class="dn" x="361.6" y="1135">Fabio Lorenzut</text><text class="dc" x="361.6" y="1156">DW000</text></g>
<g id="UDW001"><rect class="yb" x="469.6" y="1086.7" width="138.4" height="63.3" rx="9"/><text class="l" x="538.8" y="1102">Coordinamento della</text><text class="l" x="538.8" y="1114.5">Sicurezza</text><text class="n" x="538.8" y="1128">Nerio Musizza</text><text class="c" x="538.8" y="1140.5"><tspan class="r">UDW0</tspan>01</text></g>
<g id="UDW002"><rect class="yb" x="620.5" y="1086.7" width="121.5" height="63.3" rx="9"/><text class="l" x="681" y="1107">Giovani</text><text class="n" x="681" y="1122">Donatella Rocco</text><text class="c" x="681" y="1134"><tspan class="r">UDW0</tspan>02</text></g>
<g id="UDW003"><rect class="yb" x="758.7" y="1086.7" width="148.3" height="63.3" rx="9"/><text class="l" x="832.4" y="1095.5">Coordinamento</text><text class="l" x="832.4" y="1108">Amministrativo e Contabile</text><text class="n" x="832.4" y="1121">Donatella</text><text class="n" x="832.4" y="1134">Quarantotto</text><text class="c" x="832.4" y="1146"><tspan class="r">UDW0</tspan>03</text></g>
<g id="UDW004"><rect class="yb" x="918.7" y="1086.7" width="138.1" height="63.3" rx="9"/><text class="l" x="987" y="1101.5">Acquisti</text><text class="n" x="987" y="1114.5">Antonella</text><text class="n" x="987" y="1128">Coppola</text><text class="c" x="987" y="1139.5"><tspan class="r">UDW0</tspan>04</text></g>
<g id="SW500"><rect class="sb" x="122.8" y="1182.6" width="180.8" height="69" rx="14"/>
<text class="t" x="213" y="1202.6">Scuola ed Educazione</text><text class="tn" x="213" y="1222.6">Manuela Salvadei</text><text class="tc" x="213" y="1241.5">SW500</text></g>
<g id="SW600"><rect class="sb" x="419.6" y="1184" width="178.4" height="72.6" rx="14"/>
<text class="t" x="511" y="1204">Musei e Biblioteche</text><text class="tn" x="511" y="1224">Laura Carlini Fanfogna</text><text class="tc" x="511" y="1245">SW600</text></g>
<g id="SW700"><rect class="sb" x="683.4" y="1184" width="202.6" height="77" rx="14"/>
<text class="t" x="784" y="1197">Promozione Turistica</text><text class="t" x="784" y="1216.6">Eventi  Culturali e Sportivi</text><text class="tn" x="784" y="1235.6">Francesca Locci</text><text class="tc" x="784" y="1255">SW700</text></g>
<g id="USW500"><rect class="yb" x="58" y="1275.6" width="132.6" height="65" rx="9"/><text class="l" x="124" y="1285.5">Gestione Giuridica</text><text class="l" x="124" y="1298.5">del Personale</text><text class="n" x="124" y="1313">Mariafrancesca</text><text class="n" x="124" y="1326.5">Ferrigno</text><text class="c" x="124" y="1339"><tspan class="r">USW5</tspan>00</text></g>
<g id="USW501"><rect class="yb" x="62.5" y="1348" width="135.3" height="62.7" rx="9"/><text class="l" x="128.6" y="1357">Coordinamento</text><text class="l" x="128.6" y="1370">Pedagogico-</text><text class="l" x="128.6" y="1383">Organizzativo-Gestionale</text><text class="n" x="128.6" y="1396.5">Antonella Brecel</text><text class="c" x="128.6" y="1408.5"><tspan class="r">USW5</tspan>01</text></g>
<g id="USW502"><rect class="yb" x="61.6" y="1414.6" width="139.4" height="60" rx="9"/><text class="l" x="130.8" y="1428">Ristorazione Scolastica</text><text class="l" x="130.8" y="1441.5">e Controlli ISEE</text><text class="n" x="130.8" y="1455">Antonella Delbianco</text><text class="c" x="130.8" y="1467"><tspan class="r">USW5</tspan>02</text></g>
<g id="USW503"><rect class="yb" x="228.6" y="1274" width="124.9" height="56" rx="9"/><text class="l" x="291" y="1286.5">Appalti e</text><text class="l" x="291" y="1299">Gestioni di Terzi</text><text class="n" x="291" y="1312">Emilia Patriarca</text><text class="c" x="291" y="1324"><tspan class="r">USW5</tspan>03</text></g>
<g id="USW504"><rect class="yb" x="232" y="1339" width="125" height="52.6" rx="9"/><text class="l" x="294.6" y="1348.5">Scuole e Logistica,</text><text class="l" x="294.6" y="1361.5">Università e Ricerca</text><text class="n" x="294.6" y="1376">Luca Berti</text><text class="c" x="294.6" y="1387.5"><tspan class="r">USW5</tspan>04</text></g>
<g id="USW505"><rect class="yb" x="232" y="1404" width="125" height="62.6" rx="9"/><text class="l" x="294.6" y="1413.5">Accesso ai Servizi</text><text class="l" x="294.6" y="1426.5">e Prestazioni</text><text class="l" x="294.6" y="1439">Agevolate</text><text class="n" x="294.6" y="1452">Mariagrazia Monti</text><text class="c" x="294.6" y="1464"><tspan class="r">USW5</tspan>05</text></g>
<g id="USW600"><rect class="yb" x="446.4" y="1262.6" width="121.6" height="48.1" rx="9"/><text class="l" x="507.6" y="1277">Sistema Bibliotecario</text><text class="n" x="507.6" y="1290.5">Gloria Deotto</text><text class="c" x="507.6" y="1303"><tspan class="r">USW6</tspan>00</text></g>
<g id="USW601"><rect class="yb" x="448.6" y="1316.7" width="121.9" height="47.3" rx="9"/><text class="l" x="509" y="1331">Musei Storici e Artistici</text><text class="n" x="509" y="1344">Stefano Bianchi</text><text class="c" x="509" y="1355.5"><tspan class="r">USW6</tspan>01</text></g>
<g id="USW602"><rect class="yb" x="446.4" y="1371.7" width="119.2" height="40.3" rx="9"/><text class="l" x="505.8" y="1382">Musei Scientifici</text><text class="n" x="505.8" y="1395">Patrizia Fasolato</text><text class="c" x="505.8" y="1407"><tspan class="r">USW6</tspan>02</text></g>
<g id="USW603"><rect class="yb" x="447.7" y="1418" width="117.9" height="37.6" rx="9"/><text class="l" x="506.7" y="1427.5">Amministrazione Musei</text><text class="n" x="506.7" y="1441">Alessia Neri</text><text class="c" x="506.7" y="1452.5"><tspan class="r">USW6</tspan>03</text></g>
<g id="USW700"><rect class="yb" x="640.6" y="1279" width="106.4" height="53" rx="9"/><text class="lc" x="694" y="1293">Promozione Turistica</text><text class="n" x="694" y="1307">Cristina Caris</text><text class="c" x="694" y="1320"><tspan class="r">USW7</tspan>00</text></g>
<g id="USW701"><rect class="yb" x="639" y="1342.7" width="108" height="64" rx="9"/><text class="l" x="693" y="1357">Eventi Spazi Interni</text><text class="n" x="693" y="1370">Elena</text><text class="n" x="693" y="1383">Cominotto</text><text class="c" x="693" y="1394.5"><tspan class="r">USW7</tspan>01</text></g>
<g id="USW702"><rect class="yb" x="779.8" y="1279" width="117" height="53" rx="9"/><text class="l" x="838" y="1294">Eventi Suolo Pubblico</text><text class="n" x="838" y="1307">Barbara Comelli</text><text class="c" x="838" y="1319.5"><tspan class="r">USW7</tspan>02</text></g>
<g id="USW703"><rect class="yb" x="779.8" y="1342.7" width="117" height="64" rx="9"/><text class="l" x="836" y="1350.5">Eventi Sportivi</text><text class="l" x="836" y="1363">e Contributi</text><text class="n" x="836" y="1377">Giovanna</text><text class="n" x="836" y="1390">Tagliaferro</text><text class="c" x="836" y="1401.5"><tspan class="r">USW7</tspan>03</text></g>

<!-- Sociali -->
<g id="DH000"><rect class="db" x="1457.6" y="1041.7" width="224.2" height="87.3" rx="18"/>
<text class="dt" x="1570.7" y="1068" font-size="17">Servizi e Politiche Sociali</text><text class="dn" x="1570.7" y="1090">Mauro Silla</text><text class="dc" x="1570.7" y="1111">DH000</text></g>
<g id="UDH000"><rect class="yb" x="1687.5" y="1049" width="126.5" height="58.7" rx="9"/><text class="l" x="1750.8" y="1063">Ufficio di Piano</text><text class="n" x="1750.8" y="1076">Giuseppa</text><text class="n" x="1750.8" y="1088.5">Mastrogiovanni</text><text class="c" x="1750.8" y="1101"><tspan class="r">UDH0</tspan>00</text></g>
<g id="SH700"><rect class="sb" x="1335.6" y="1150" width="173.8" height="91.7" rx="14"/>
<text class="t" x="1422" y="1170">Servizio Sociale</text><text class="t" x="1422" y="1191">Comunale</text><text class="tn" x="1422" y="1210">Ambra De Candido</text><text class="tc" x="1422" y="1231">SH700</text></g>
<g id="SH800"><rect class="sb" x="1745.6" y="1148" width="208.4" height="95" rx="14"/>
<text class="t" x="1849.4" y="1162" font-size="14">Strutture e Interventi per</text><text class="t" x="1849.4" y="1180.5" font-size="14">Disabilità, Casa, Inserimento</text><text class="t" x="1849.4" y="1199" font-size="14">Lavorativo e Accoglienza</text><text class="tn" x="1849.4" y="1218">Luigi Leonardi</text><text class="tc" x="1849.4" y="1238">SH800</text></g>
<g id="USH701"><rect class="yb" x="1252.7" y="1277" width="107.3" height="39" rx="9"/><text class="l" x="1306.7" y="1286.5">Adulti UOT 1</text><text class="n" x="1306.7" y="1301.5">Stefano Chicco</text><text class="c" x="1306.7" y="1312"><tspan class="r">USH7</tspan>01</text></g>
<g id="USH702"><rect class="yb" x="1248" y="1328" width="114.7" height="57.7" rx="9"/><text class="l" x="1306" y="1341">Non Autosufficienza</text><text class="l" x="1306" y="1353.5">UOT 1</text><text class="n" x="1306" y="1368">Stefano Ferroli</text><text class="c" x="1306" y="1379.5"><tspan class="r">USH7</tspan>02</text></g>
<g id="USH703"><rect class="yb" x="1246.7" y="1391.7" width="104.3" height="46.3" rx="9"/><text class="l" x="1299" y="1405">Minori UOT 1</text><text class="n" x="1299" y="1419">Paolo Taverna</text><text class="c" x="1299" y="1431"><tspan class="r">USH7</tspan>03</text></g>
<g id="USH704"><rect class="yb" x="1375" y="1278" width="108" height="38" rx="9"/><text class="l" x="1429" y="1287">Adulti UOT 2</text><text class="n" x="1429" y="1302">Laura Perrone</text><text class="c" x="1429" y="1312.5"><tspan class="r">USH7</tspan>04</text></g>
<g id="USH705"><rect class="yb" x="1379" y="1322.7" width="111" height="57.3" rx="9"/><text class="l" x="1435" y="1335.5">Non Autosufficienza</text><text class="l" x="1435" y="1348">UOT 2</text><text class="n" x="1435" y="1362">Anna Galopin</text><text class="c" x="1435" y="1374.5"><tspan class="r">USH7</tspan>05</text></g>
<g id="USH706"><rect class="yb" x="1369" y="1386.7" width="112.7" height="52.3" rx="9"/><text class="l" x="1424" y="1397">Minori UOT 2</text><text class="n" x="1424" y="1409.5">Alessandra</text><text class="n" x="1424" y="1423">Zorzetto</text><text class="c" x="1424" y="1435"><tspan class="r">USH7</tspan>06</text></g>
<g id="USH707"><rect class="yb" x="1506.7" y="1284" width="104.3" height="69" rx="9"/><text class="l" x="1559" y="1294.5">Gestione Attività</text><text class="l" x="1559" y="1308">Amministrative</text><text class="n" x="1559" y="1322">Nicoletta</text><text class="n" x="1559" y="1337">Flora</text><text class="c" x="1559" y="1348"><tspan class="r">USH7</tspan>07</text></g>
<g id="USH708"><rect class="yb" x="1498" y="1368" width="107" height="65" rx="9"/><text class="l" x="1550.7" y="1378">Persone con</text><text class="l" x="1550.7" y="1389.5">Disabilità</text><text class="n" x="1550.7" y="1404.5">Annamaria</text><text class="n" x="1550.7" y="1418.5">Gatti</text><text class="c" x="1550.7" y="1431"><tspan class="r">USH7</tspan>08</text></g>
<g id="USH801"><rect class="yb" x="1661.5" y="1256.6" width="171.3" height="44.1" rx="9"/><text class="l" x="1746.6" y="1270" letter-spacing=".4">Gestione Attività Amministrative</text><text class="n" x="1746.6" y="1283">Michela Indrio</text><text class="c" x="1746.6" y="1295.5"><tspan class="r">USH8</tspan>01</text></g>
<g id="USH802"><rect class="yb" x="1661.5" y="1310" width="171.3" height="54" rx="9"/><text class="l" x="1746.6" y="1322.5" letter-spacing=".4">Gestione Attività Amministrative</text><text class="l" x="1746.6" y="1335.5">delle Residenze</text><text class="n" x="1746.6" y="1349">Domenico Venier</text><text class="c" x="1746.6" y="1361"><tspan class="r">USH8</tspan>02</text></g>
<g id="USH803"><rect class="yb" x="1664" y="1370.7" width="165.7" height="41" rx="9"/><text class="l" x="1746.6" y="1382">Casa e Accoglienza</text><text class="n" x="1746.6" y="1396">Chiara Calabria</text><text class="c" x="1746.6" y="1408"><tspan class="r">USH8</tspan>03</text></g>
<g id="USH804"><rect class="yb" x="1666" y="1418" width="165" height="56" rx="9"/><text class="l" x="1748" y="1430.5">Servizio Integrazione</text><text class="l" x="1748" y="1443">Inserimento Lavorativo</text><text class="n" x="1748" y="1456">Rosella Apollonio</text><text class="c" x="1748" y="1468"><tspan class="r">USH8</tspan>04</text></g>
<g id="USH805"><rect class="yb" x="1889" y="1257" width="203" height="64.7" rx="9"/><text class="l" x="1990" y="1268.5">Residenza Gregoretti,</text><text class="l" x="1990" y="1282" letter-spacing=".4">Residenza e Centro Diurno Campanelle,</text><text class="l" x="1990" y="1294.5">Centro Diurno via Weiss</text><text class="n" x="1990" y="1309">Fiorenza Taffra</text><text class="c" x="1990" y="1320"><tspan class="r">USH8</tspan>05</text></g>
<g id="USH806"><rect class="yb" x="1891" y="1329" width="199.7" height="51.7" rx="9"/><text class="l" x="1991" y="1346">Residenze Centro per l'Anziano</text><text class="n" x="1991" y="1360">Ariella Raunikar</text><text class="c" x="1991" y="1372"><tspan class="r">USH8</tspan>06</text></g>
<g id="USH807"><rect class="yb" x="1891" y="1385" width="199.7" height="43" rx="9"/><text class="l" x="1991" y="1397">Farmacia al Cammello</text><text class="n" x="1991" y="1412">Gabriella Trampus</text><text class="c" x="1991" y="1423"><tspan class="r">USH8</tspan>07</text></g>
<g id="USH808"><rect class="yb" x="1891" y="1433" width="199.7" height="42" rx="9"/><text class="l" x="1991" y="1443">Farmacia al Cedro</text><text class="n" x="1991" y="1458">Fabrizio Ongaro</text><text class="c" x="1991" y="1468"><tspan class="r">USH8</tspan>08</text></g>
</svg>
